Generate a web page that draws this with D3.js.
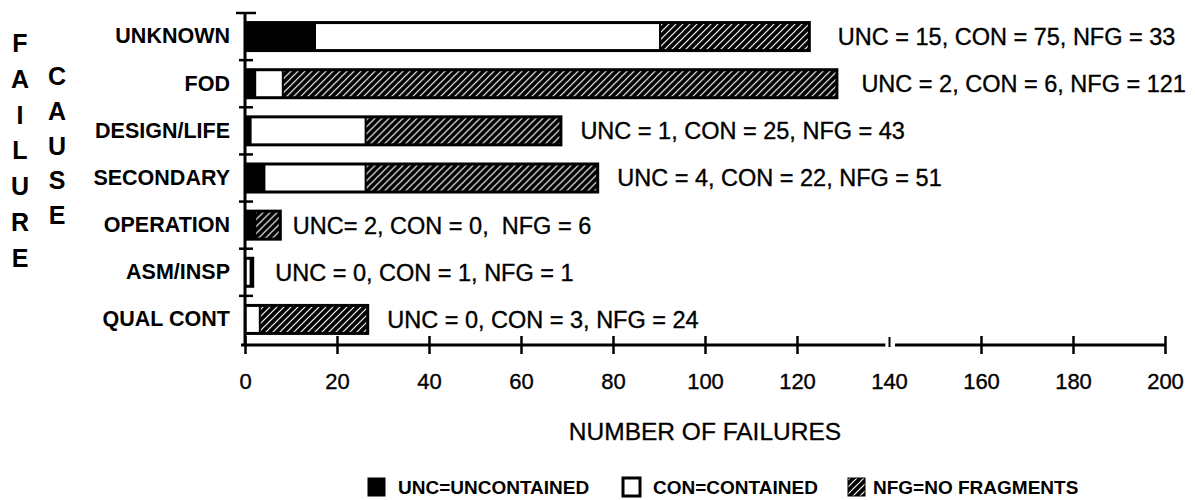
<!DOCTYPE html>
<html>
<head>
<meta charset="utf-8">
<script src="https://cdn.jsdelivr.net/npm/d3@7"></script>
<style>
  body { margin: 0; background: #fff; }
  svg { display: block; }
  text { fill: #000; }
  .cat { font-family: "Liberation Sans Narrow", "Liberation Sans", Arial, sans-serif; font-weight: bold; font-size: 21.5px; }
  .note { font-family: "Liberation Sans", Arial, sans-serif; font-size: 23.5px; white-space: pre; stroke: #000; stroke-width: 0.35px; }
  .tick-label { font-family: "Liberation Sans", Arial, sans-serif; font-size: 22px; stroke: #000; stroke-width: 0.35px; }
  .title { font-family: "Liberation Sans", Arial, sans-serif; font-size: 24.5px; stroke: #000; stroke-width: 0.3px; }
  .side { font-family: "Liberation Sans", Arial, sans-serif; font-weight: bold; font-size: 25px; }
  .legend { font-family: "Liberation Sans Narrow", "Liberation Sans", Arial, sans-serif; font-weight: bold; font-size: 19px; }
</style>
</head>
<body>
<div id="chart"></div>
<script>
// Values
const categories = ['UNKNOWN', 'FOD', 'DESIGN/LIFE', 'SECONDARY', 'OPERATION', 'ASM/INSP', 'QUAL CONT'];
const uncValues = [15, 2, 1, 4, 2, 0, 0];
const conValues = [75, 6, 25, 22, 0, 1, 3];
const nfgValues = [33, 121, 43, 51, 6, 1, 24];
const noteLabels = [
  'UNC = 15, CON = 75, NFG = 33',
  'UNC = 2, CON = 6, NFG = 121',
  'UNC = 1, CON = 25, NFG = 43',
  'UNC = 4, CON = 22, NFG = 51',
  'UNC= 2, CON = 0,  NFG = 6',
  'UNC = 0, CON = 1, NFG = 1',
  'UNC = 0, CON = 3, NFG = 24'
];
const xTicks = [0, 20, 40, 60, 80, 100, 120, 140, 160, 180, 200];
const legendLabels = ['UNC=UNCONTAINED', 'CON=CONTAINED', 'NFG=NO FRAGMENTS'];
const sideWord1 = 'FAILURE'.split('');
const sideWord2 = 'CAUSE'.split('');

// small gaps between bar end and its note (style only)
const noteGap = [27, 23, 18, 18, 11, 21, 18];

const width = 1195, height = 500;
const svg = d3.select('#chart').append('svg')
  .attr('width', width)
  .attr('height', height);

// hatch pattern: black with white "/" strokes
const defs = svg.append('defs');
const pat = defs.append('pattern')
  .attr('id', 'hatch')
  .attr('patternUnits', 'userSpaceOnUse')
  .attr('width', 7)
  .attr('height', 7);
pat.append('rect').attr('width', 7).attr('height', 7).attr('fill', '#000');
pat.append('path')
  .attr('d', 'M-1,1 l2,-2 M0,7 l7,-7 M6,8 l2,-2')
  .attr('stroke', '#fff')
  .attr('stroke-width', 1.2);

const x = d3.scaleLinear().domain([0, 200]).range([245, 1165]);
const y = d3.scaleBand().domain(categories).range([13, 343]).padding(0);
const barH = 31;

// stacked rows
const rows = categories.map((c, i) => ({
  cat: c,
  unc: uncValues[i],
  con: conValues[i],
  nfg: nfgValues[i],
  total: uncValues[i] + conValues[i] + nfgValues[i],
  note: noteLabels[i],
  gap: noteGap[i]
}));

const bars = svg.append('g');
const row = bars.selectAll('g.row')
  .data(rows)
  .enter()
  .append('g')
  .attr('class', 'row')
  .attr('transform', d => `translate(0, ${y(d.cat) + (y.bandwidth() - barH) / 2})`);

// whole bar in black first, then inner white / hatched parts
row.append('rect')
  .attr('x', x(0))
  .attr('y', 0)
  .attr('width', d => x(d.total) - x(0))
  .attr('height', barH)
  .attr('fill', '#000');

row.filter(d => d.con > 0)
  .append('rect')
  .attr('x', d => x(d.unc) + (d.unc > 0 ? 2 : 1.5))
  .attr('y', 3)
  .attr('width', d => Math.max(0, x(d.unc + d.con) - x(d.unc) - (d.unc > 0 ? 2 : 1.5)))
  .attr('height', barH - 6)
  .attr('fill', '#fff');

row.filter(d => d.nfg > 0)
  .append('rect')
  .attr('x', d => x(d.unc + d.con) + 2)
  .attr('y', 3)
  .attr('width', d => Math.max(0, x(d.total) - x(d.unc + d.con) - 5))
  .attr('height', barH - 6)
  .attr('fill', 'url(#hatch)');

row.append('text')
  .attr('class', 'note')
  .attr('x', d => x(d.total) + d.gap)
  .attr('y', barH / 2)
  .attr('dy', '0.36em')
  .text(d => d.note);

// y axis with ticks at the band edges
const yAxis = svg.append('g');
yAxis.append('line')
  .attr('x1', x(0)).attr('x2', x(0))
  .attr('y1', y.range()[0]).attr('y2', y.range()[1] + 3)
  .attr('stroke', '#000').attr('stroke-width', 3);
const edges = categories.map(c => y(c));
yAxis.selectAll('line.edge')
  .data(edges)
  .enter()
  .append('line')
  .attr('class', 'edge')
  .attr('x1', (d, i) => i === 0 ? x(0) - 9 : x(0) - 6)
  .attr('x2', (d, i) => i === 0 ? x(0) + 11 : x(0) + 8)
  .attr('y1', d => d).attr('y2', d => d)
  .attr('stroke', '#000').attr('stroke-width', 2.5);

svg.append('g')
  .attr('transform', `translate(${x(0)}, 0)`)
  .call(d3.axisLeft(y).tickSize(0).tickPadding(15))
  .call(g => g.select('.domain').remove())
  .selectAll('text')
  .attr('class', 'cat')
  .attr('fill', '#000')
  .style('font-family', null)
  .style('font-size', null);

// x axis, broken just before 140
const xAxisY = 345;
const xg = svg.append('g').attr('transform', `translate(0, ${xAxisY})`);
xg.append('line')
  .attr('x1', x(0) - 4).attr('x2', x(139.2))
  .attr('stroke', '#000').attr('stroke-width', 3);
xg.append('line')
  .attr('x1', x(141.3)).attr('x2', x(200))
  .attr('stroke', '#000').attr('stroke-width', 3);

xg.call(d3.axisBottom(x).tickValues(xTicks).tickSize(8).tickPadding(20).tickFormat(d3.format('d')))
  .call(g => g.select('.domain').remove())
  .call(g => g.selectAll('.tick line')
    .attr('y1', d => d === 140 ? -8 : -9)
    .attr('y2', d => d === 140 ? 2 : 9)
    .attr('stroke', '#000')
    .attr('stroke-width', d => d === 140 ? 2 : 2.5))
  .call(g => g.selectAll('.tick text')
    .attr('class', 'tick-label')
    .attr('fill', '#000')
    .style('font-family', null)
    .style('font-size', null));
xg.attr('font-family', null).attr('font-size', null);

svg.append('text')
  .attr('class', 'title')
  .attr('x', x(100))
  .attr('y', 431)
  .attr('dy', '0.36em')
  .attr('text-anchor', 'middle')
  .text('NUMBER OF FAILURES');

// vertical side words
svg.append('g').selectAll('text')
  .data(sideWord1)
  .enter()
  .append('text')
  .attr('class', 'side')
  .attr('x', 20)
  .attr('y', (d, i) => 43 + i * 35.8)
  .attr('dy', '0.36em')
  .attr('text-anchor', 'middle')
  .text(d => d);

svg.append('g').selectAll('text')
  .data(sideWord2)
  .enter()
  .append('text')
  .attr('class', 'side')
  .attr('x', 57)
  .attr('y', (d, i) => 76 + i * 34.8)
  .attr('dy', '0.36em')
  .attr('text-anchor', 'middle')
  .text(d => d);

// legend
const legendX = [368, 623, 848];
const lg = svg.append('g').selectAll('g')
  .data(legendLabels)
  .enter()
  .append('g')
  .attr('transform', (d, i) => `translate(${legendX[i]}, 487)`);

lg.append('rect')
  .attr('x', 0).attr('y', -9)
  .attr('width', 17).attr('height', 18)
  .attr('fill', (d, i) => i === 0 ? '#000' : (i === 1 ? '#fff' : 'url(#hatch)'))
  .attr('stroke', '#000')
  .attr('stroke-width', (d, i) => i === 1 ? 3 : 1);

lg.append('text')
  .attr('class', 'legend')
  .attr('x', (d, i) => i === 2 ? 25 : 30)
  .attr('y', 0)
  .attr('dy', '0.36em')
  .text(d => d);
</script>
</body>
</html>
